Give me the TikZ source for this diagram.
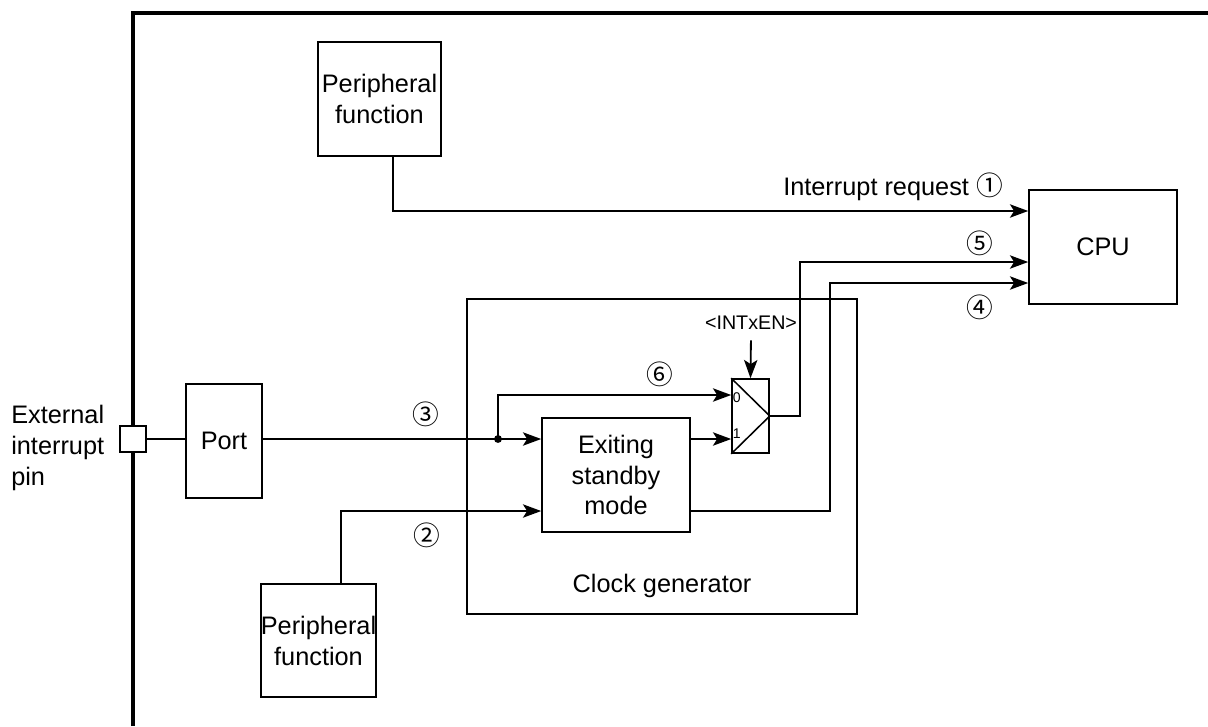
\documentclass[tikz,border=0pt]{standalone}
\usepackage{fontspec}
\setmainfont{Liberation Sans}
\newfontfamily\circfont{Noto Sans CJK JP}
\usetikzlibrary{arrows.meta,positioning,calc}
\newcommand{\cnum}[1]{{\circfont\fontsize{19}{22}\selectfont #1}}

\begin{document}
\begin{tikzpicture}[x=0.025cm,y=-0.025cm,>={Stealth[length=13pt,width=9.5pt,inset=3pt]},
  font=\fontsize{18}{22}\selectfont,
  box/.style={draw,line width=1.1pt,align=center,inner sep=0pt},
  sig/.style={line width=1.3pt},
  small/.style={font=\fontsize{14}{16}\selectfont},
  tiny/.style={font=\fontsize{10}{12}\selectfont,inner sep=1pt,anchor=west}]
  \useasboundingbox (0,0) rectangle (1208,726);
  \draw[line width=2.8pt] (133,726) -- (133,13) -- (1208,13);
  \node[box,minimum width=3.075cm,minimum height=2.85cm] (perA) at (379.5,99) {Peripheral\\function};
  \node[box,minimum width=2.725cm,minimum height=2.825cm] (perB) at (318.5,640.5) {Peripheral\\function};
  \node[box,minimum width=3.7cm,minimum height=2.85cm] (cpu) at (1103,247) {CPU};
  \node[box,minimum width=9.75cm,minimum height=7.875cm] (clk) at (662,456.5) {};
  \node (clklbl) at (662,586) {Clock generator};
  \node[box,minimum width=1.9cm,minimum height=2.85cm] (port) at (224,441) {Port};
  \node[box,minimum width=0.65cm,minimum height=0.65cm,fill=white] (pin) at (133,439) {};
  \node[align=left,anchor=west,inner sep=0pt] (pinlbl) at (11,448) {External\\interrupt\\pin};
  \node[box,minimum width=3.7cm,minimum height=2.85cm] (stby) at (616,475) {Exiting\\standby\\mode};
  \node[box,minimum width=0.925cm,minimum height=1.85cm] (mux) at (750.5,416) {};
  \draw[line width=1.1pt] (mux.north west) -- (mux.east) -- (mux.south west);
  \node[tiny] (in0) at ([yshift=.45cm]mux.west) {0};
  \node[tiny] (in1) at ([yshift=-.45cm]mux.west) {1};
  \node[small] (en) at (751,323) {<INTxEN>};
  \coordinate (tap) at (498,439);
  \draw[sig] (pin.east) -- (pin.east -| port.west);
  \draw[sig,->] (port.east |- pin) -- (stby.west |- pin);
  \fill (tap) circle (2.8pt);
  \draw[sig,->] (tap) |- ([yshift=.525cm]mux.west);
  \draw[sig,->] ([yshift=.9cm]stby.east) -- ([yshift=-.575cm]mux.west);
  \draw[sig,->] ([xshift=.5625cm]perB.north) |- ([yshift=-.9cm]stby.west);
  \draw[sig,->] ([xshift=.34cm]perA.south) |- ([yshift=.9cm]cpu.west);
  \draw[sig,->] (mux.east) -- ++(30,0) |- ([yshift=-.375cm]cpu.west);
  \draw[sig,->] ([yshift=-.9cm]stby.east) -- ++(139,0) |- ([yshift=-.9cm]cpu.west);
  \draw[sig,->,shorten <=4pt] (en.south) -- (mux.north);
  \node (irq) at (893,187) {Interrupt request \cnum{①}};
  \node (n2) at (427,535) {\cnum{②}};
  \node (n3) at (426,414) {\cnum{③}};
  \node (n4) at (980,307) {\cnum{④}};
  \node (n5) at (980,243) {\cnum{⑤}};
  \node (n6) at (660,374) {\cnum{⑥}};
\end{tikzpicture}
\end{document}
